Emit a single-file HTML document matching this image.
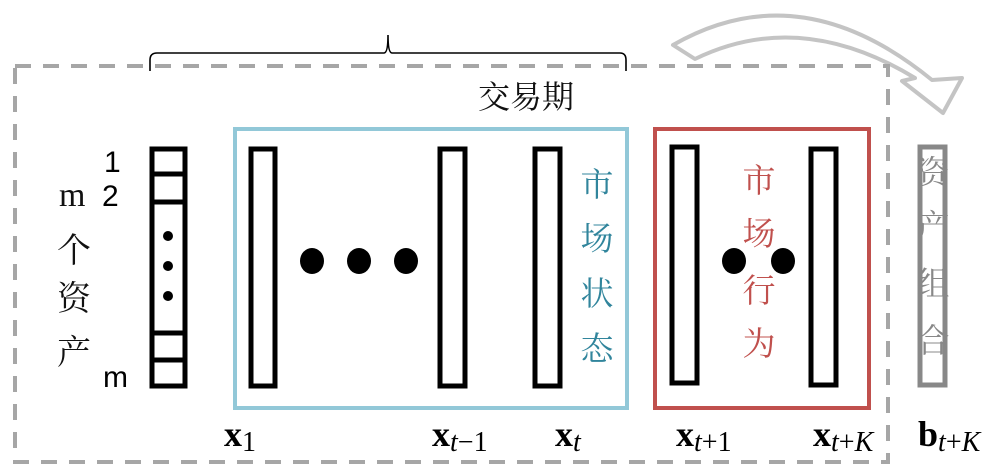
<!DOCTYPE html>
<html><head><meta charset="utf-8"><style>
html,body{margin:0;padding:0;background:#fff;width:993px;height:471px;overflow:hidden}
svg{display:block}
.cj{font-family:"Liberation Serif","Noto Serif CJK SC",serif}
.lab{font-family:"Liberation Serif",serif;font-weight:bold}
</style></head><body>
<svg width="993" height="471" viewBox="0 0 993 471" xmlns="http://www.w3.org/2000/svg">
<!-- curved arrow -->
<path d="M673,45 Q800,-28 932,80 L962,78 L943,113 L902,81 L915,78 Q800,8 695,59 Z" fill="#fff" stroke="#c4c4c4" stroke-width="4" stroke-linejoin="round"/>
<!-- dashed outer box -->
<path d="M15,66 L888,66 L888,462 L15,462 Z" fill="none" stroke="#a6a6a6" stroke-width="4" stroke-dasharray="16,12"/>
<!-- brace -->
<path d="M150,71 L150,60 Q150,53 157,53 L384,53 Q388,53 388,35 Q388,53 392,53 L620,53 Q626,53 626,60 L626,71" fill="none" stroke="#000" stroke-width="1.6"/>
<text x="478" y="108" class="cj" font-size="32" fill="#111">交易期</text>
<!-- boxes -->
<rect x="235" y="129" width="392" height="279" fill="none" stroke="#92c8d8" stroke-width="4"/>
<rect x="655" y="129" width="214" height="279" fill="none" stroke="#c0504d" stroke-width="4"/>
<!-- asset column -->
<g fill="none" stroke="#000" stroke-width="5">
<rect x="152" y="149" width="33" height="237"/>
<line x1="152" y1="174" x2="185" y2="174"/><line x1="152" y1="202" x2="185" y2="202"/>
<line x1="152" y1="333" x2="185" y2="333"/><line x1="152" y1="360" x2="185" y2="360"/>
<rect x="251" y="149" width="24" height="237"/>
<rect x="440" y="149" width="25" height="237"/>
<rect x="535" y="149" width="25" height="237"/>
<rect x="672" y="147" width="25" height="236"/>
<rect x="811" y="149" width="25" height="236"/>
</g>
<rect x="920" y="147" width="25" height="238" fill="none" stroke="#888" stroke-width="5"/>
<g fill="#000">
<circle cx="168" cy="236" r="5"/><circle cx="168" cy="266" r="5"/><circle cx="168" cy="296" r="5"/>
<ellipse cx="312" cy="261" rx="12" ry="13"/><ellipse cx="359" cy="261" rx="12" ry="13"/><ellipse cx="406" cy="261" rx="12" ry="13"/>
<ellipse cx="734" cy="261" rx="12" ry="13"/><ellipse cx="783" cy="261" rx="12" ry="13"/>
</g>
<!-- left labels -->
<text x="59" y="206" class="cj" font-size="34" fill="#111">m</text>
<g class="cj" font-size="34" fill="#111" text-anchor="middle">
<text x="74" y="262">个</text><text x="74" y="310">资</text><text x="74" y="364">产</text>
</g>
<g font-family="Liberation Sans,sans-serif" font-size="30" fill="#000">
<text x="104" y="172">1</text><text x="102" y="206">2</text><text x="103" y="387">m</text>
</g>
<!-- vertical texts -->
<g class="cj" font-size="33" text-anchor="middle">
<g fill="#31859c"><text x="597" y="196">市</text><text x="597" y="250">场</text><text x="597" y="305">状</text><text x="597" y="360">态</text></g>
<g fill="#c0504d"><text x="759" y="192">市</text><text x="759" y="245">场</text><text x="759" y="302">行</text><text x="759" y="355">为</text></g>
<g fill="#888"><text x="933" y="184">资</text><text x="933" y="238">产</text><text x="933" y="295">组</text><text x="933" y="352">合</text></g>
</g>
<!-- bottom labels -->
<g class="lab" font-size="36" fill="#000">
<text x="224" y="446">x<tspan font-size="28" font-weight="normal" dy="5">1</tspan></text>
<text x="432" y="446">x<tspan font-size="28" font-weight="normal" font-style="italic" dy="5">t</tspan><tspan font-size="28" font-weight="normal">−1</tspan></text>
<text x="555" y="446">x<tspan font-size="28" font-weight="normal" font-style="italic" dy="5">t</tspan></text>
<text x="676" y="446">x<tspan font-size="28" font-weight="normal" font-style="italic" dy="5">t</tspan><tspan font-size="28" font-weight="normal">+1</tspan></text>
<text x="813" y="446">x<tspan font-size="28" font-weight="normal" font-style="italic" dy="5">t</tspan><tspan font-size="28" font-weight="normal">+</tspan><tspan font-size="28" font-weight="normal" font-style="italic">K</tspan></text>
<text x="918" y="446">b<tspan font-size="28" font-weight="normal" font-style="italic" dy="5">t</tspan><tspan font-size="28" font-weight="normal">+</tspan><tspan font-size="28" font-weight="normal" font-style="italic">K</tspan></text>
</g>
</svg>
</body></html>
